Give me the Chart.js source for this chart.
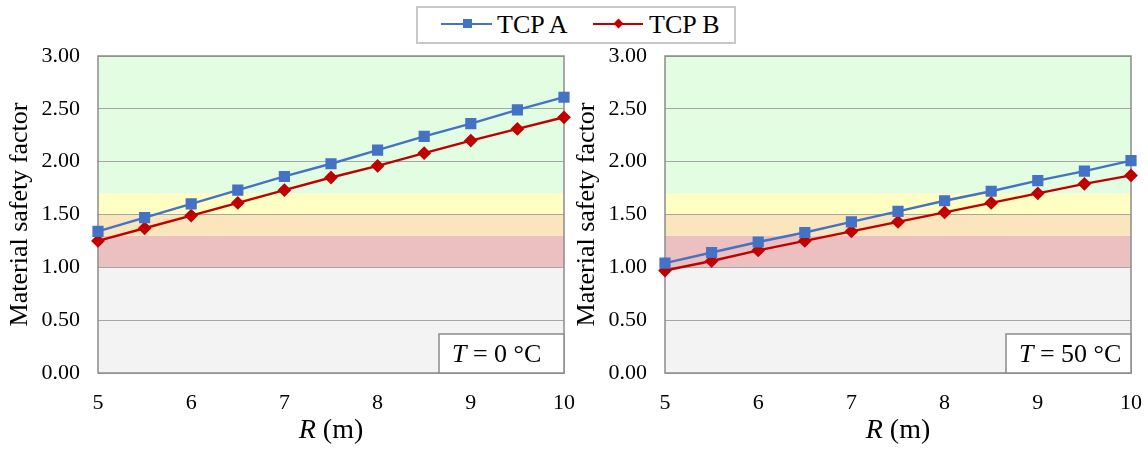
<!DOCTYPE html>
<html>
<head>
<meta charset="utf-8">
<script src="https://cdn.jsdelivr.net/npm/chart.js@4.4.1/dist/chart.umd.min.js"></script>
<style>
    html, body { margin: 0; padding: 0; background: #fff; overflow: hidden; }
    #wrap { position: relative; width: 1148px; height: 450px; overflow: hidden; }
    .panel { position: absolute; top: 0; width: 594px; height: 450px; }
    #legend {
        position: absolute; left: 416px; top: 6px; width: 320px; height: 38px;
        box-sizing: border-box; border: 2px solid #c8c8c8; background: #fff;
        font-family: 'Liberation Serif', 'Times New Roman', serif; font-size: 26px; color: #000;
    }
    #legend .line { position: absolute; height: 2px; top: 15px; }
    #legend .mark { position: absolute; }
    #legend .label { position: absolute; top: 0; line-height: 33px; }
</style>
</head>
<body>
<div id="wrap">
    <div class="panel" style="left:0"><canvas id="chartCold"></canvas></div>
    <div class="panel" style="left:567px"><canvas id="chartHot"></canvas></div>
    <div id="legend">
        <div class="line" style="left:23px;width:51px;background:#4472c4"></div>
        <div class="mark" style="left:45px;top:11px;width:9px;height:9px;background:#4472c4"></div>
        <div class="label" style="left:79px">TCP A</div>
        <div class="line" style="left:175px;width:50px;background:#c00000"></div>
        <div class="mark" style="left:197px;top:12px;width:7px;height:7px;background:#c00000;transform:rotate(45deg)"></div>
        <div class="label" style="left:231px">TCP B</div>
    </div>
</div>
<script>
// R (m) along the x axis
const radius = [5, 5.5, 6, 6.5, 7, 7.5, 8, 8.5, 9, 9.5, 10];

// material safety factor, T = 0 °C
const tcpA_0C = [1.34, 1.47, 1.60, 1.73, 1.86, 1.98, 2.11, 2.24, 2.36, 2.49, 2.61];
const tcpB_0C = [1.25, 1.37, 1.49, 1.61, 1.73, 1.85, 1.96, 2.08, 2.20, 2.31, 2.42];

// material safety factor, T = 50 °C
const tcpA_50C = [1.04, 1.14, 1.24, 1.33, 1.43, 1.53, 1.63, 1.72, 1.82, 1.91, 2.01];
const tcpB_50C = [0.97, 1.06, 1.16, 1.25, 1.34, 1.43, 1.52, 1.61, 1.70, 1.79, 1.87];

const xTicks = [5, 6, 7, 8, 9, 10];
const yTicks = [0, 0.5, 1.0, 1.5, 2.0, 2.5, 3.0];

// safety zones (limits on the y axis)
const bandLimits = [0, 1.0, 1.3, 1.5, 1.7, 3.0];

const bandColors = ['#f3f3f3', '#ecc0c0', '#fbe5bd', '#ffffc4', '#e2fde2'];
const serif = "'Liberation Serif', 'Times New Roman', serif";
const frameColor = '#8c8c8c';
const blue = '#4472c4';
const red = '#c00000';

const bandPlugin = {
    id: 'bands',
    beforeDraw(chart) {
        const { ctx, chartArea: a, scales: { y } } = chart;
        ctx.save();
        for (let i = 0; i < bandLimits.length - 1; i++) {
            const top = y.getPixelForValue(bandLimits[i + 1]);
            const bottom = y.getPixelForValue(bandLimits[i]);
            ctx.fillStyle = bandColors[i];
            ctx.fillRect(a.left, top, a.right - a.left, bottom - top);
        }
        ctx.restore();
    },
    beforeDatasetsDraw(chart) {
        const { ctx, chartArea: a } = chart;
        ctx.save();
        ctx.strokeStyle = frameColor;
        ctx.lineWidth = 1.5;
        ctx.strokeRect(a.left, a.top, a.right - a.left, a.bottom - a.top);
        ctx.restore();
    }
};

function makeChart(id, seriesA, seriesB, tempText) {
    const labelPlugin = {
        id: 'tempLabel',
        afterDatasetsDraw(chart) {
            const { ctx, chartArea: a } = chart;
            const w = 125, h = 39;
            ctx.save();
            ctx.fillStyle = '#fff';
            ctx.fillRect(a.right - w, a.bottom - h, w, h);
            ctx.strokeStyle = frameColor;
            ctx.lineWidth = 1.5;
            ctx.strokeRect(a.right - w, a.bottom - h, w, h);

            ctx.fillStyle = '#000';
            ctx.textBaseline = 'alphabetic';
            let x = a.right - w + 13;
            const y = a.bottom - 11;
            ctx.font = 'italic 26px ' + serif;
            ctx.fillText('T', x, y);
            x += ctx.measureText('T').width;
            ctx.font = '26px ' + serif;
            ctx.fillText(' = ' + tempText, x, y);

            // x axis title, R in italics
            ctx.font = 'italic 28px ' + serif;
            const wR = ctx.measureText('R').width;
            ctx.font = '28px ' + serif;
            const wRest = ctx.measureText(' (m)').width;
            const tx = (a.left + a.right) / 2 - (wR + wRest) / 2;
            ctx.font = 'italic 28px ' + serif;
            ctx.fillText('R', tx, 438);
            ctx.font = '28px ' + serif;
            ctx.fillText(' (m)', tx + wR, 438);
            ctx.restore();
        }
    };

    return new Chart(document.getElementById(id), {
        type: 'line',
        data: {
            datasets: [
                {
                    label: 'TCP A',
                    data: radius.map((r, i) => ({ x: r, y: seriesA[i] })),
                    borderColor: blue,
                    backgroundColor: blue,
                    pointStyle: 'rect',
                    pointRadius: 6.2,
                    borderWidth: 2.4,
                    tension: 0,
                    clip: false
                },
                {
                    label: 'TCP B',
                    data: radius.map((r, i) => ({ x: r, y: seriesB[i] })),
                    borderColor: red,
                    backgroundColor: red,
                    pointStyle: 'rectRot',
                    pointRadius: 5.2,
                    borderWidth: 2.4,
                    tension: 0,
                    clip: false
                }
            ]
        },
        options: {
            responsive: true,
            maintainAspectRatio: false,
            animation: false,
            events: [],
            layout: { padding: { left: 0, top: 56, right: 30, bottom: 0 } },
            scales: {
                x: {
                    type: 'linear',
                    min: 5,
                    max: 10,
                    afterFit: s => { s.height = 77; },
                    afterBuildTicks: s => { s.ticks = xTicks.map(v => ({ value: v })); },
                    ticks: { color: '#000', padding: 17, font: { family: serif, size: 22 } },
                    grid: { display: false, drawTicks: false },
                    border: { display: false }
                },
                y: {
                    min: 0,
                    max: 3,
                    afterFit: s => { s.width = 98; },
                    afterBuildTicks: s => { s.ticks = yTicks.map(v => ({ value: v })); },
                    ticks: { color: '#000', padding: 18, font: { family: serif, size: 22 }, callback: v => v.toFixed(2) },
                    grid: { color: '#a6a6a6', lineWidth: 1, drawTicks: false },
                    border: { display: false },
                    title: {
                        display: true,
                        text: 'Material safety factor',
                        color: '#000',
                        font: { family: serif, size: 26 },
                        padding: { top: 5, bottom: 0 }
                    }
                }
            },
            plugins: {
                legend: { display: false },
                tooltip: { enabled: false }
            }
        },
        plugins: [bandPlugin, labelPlugin]
    });
}

makeChart('chartCold', tcpA_0C, tcpB_0C, '0 °C');
makeChart('chartHot', tcpA_50C, tcpB_50C, '50 °C');
</script>
</body>
</html>
